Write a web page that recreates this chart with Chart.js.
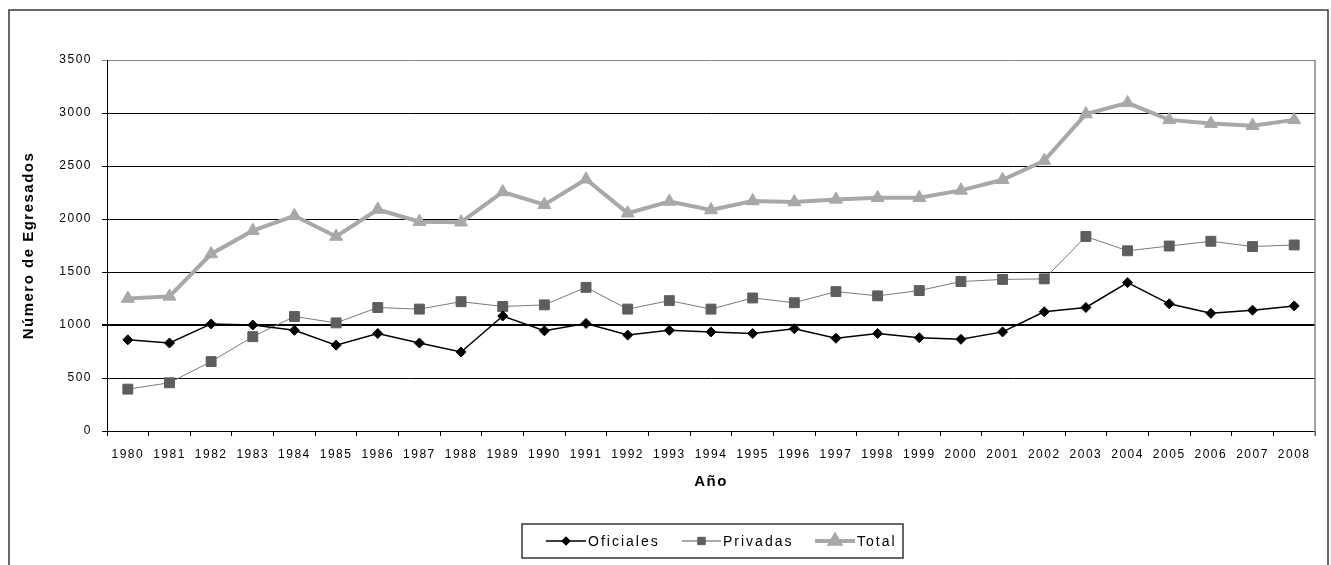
<!DOCTYPE html>
<html>
<head>
<meta charset="utf-8">
<script src="https://cdn.jsdelivr.net/npm/chart.js@4.4.1/dist/chart.umd.min.js"></script>
<style>
  html, body { margin: 0; padding: 0; background: #fff; }
  canvas { display: block; }
</style>
</head>
<body>
<canvas id="egresadosChart" width="1331" height="565"></canvas>
<script>
const years = ['1980', '1981', '1982', '1983', '1984', '1985', '1986', '1987', '1988', '1989',
    '1990', '1991', '1992', '1993', '1994', '1995', '1996', '1997', '1998', '1999',
    '2000', '2001', '2002', '2003', '2004', '2005', '2006', '2007', '2008'];

const oficiales = [860, 830, 1010, 1000, 950, 810, 920, 830, 745, 1085,
    945, 1015, 905, 950, 935, 920, 965, 875, 920, 880,
    865, 935, 1125, 1165, 1400, 1200, 1110, 1140, 1180];

const privadas = [395, 455, 655, 890, 1080, 1020, 1165, 1150, 1220, 1175,
    1190, 1355, 1150, 1230, 1150, 1255, 1210, 1315, 1275, 1325,
    1410, 1430, 1435, 1835, 1700, 1745, 1790, 1740, 1755];

const total = [1250, 1270, 1670, 1890, 2030, 1835, 2090, 1975, 1970, 2255,
    2135, 2375, 2055, 2165, 2085, 2170, 2160, 2185, 2200, 2200,
    2270, 2370, 2550, 2990, 3095, 2935, 2900, 2880, 2935];

const yTicks = [0, 500, 1000, 1500, 2000, 2500, 3000, 3500];

const FONT = "'Liberation Sans', Arial, sans-serif";

// letter spacing has to be put back after any canvas reset
const spacing = {
    id: 'spacing',
    beforeUpdate(chart) { chart.ctx.letterSpacing = '1.5px'; },
    beforeLayout(chart) { chart.ctx.letterSpacing = '1.5px'; },
    beforeDraw(chart) { chart.ctx.letterSpacing = '1.5px'; }
};

// outer frame, plot border and the boxed legend
const frame = {
    id: 'frame',
    afterDraw(chart) {
        const ctx = chart.ctx;
        const area = chart.chartArea;
        ctx.save();
        ctx.strokeStyle = '#3a3a3a';
        ctx.lineWidth = 1.5;
        ctx.strokeRect(9, 10, 1319, 600);

        ctx.strokeStyle = '#868686';
        ctx.lineWidth = 1.5;
        ctx.beginPath();
        ctx.moveTo(area.right, area.top);
        ctx.lineTo(area.right, area.bottom + 5);
        ctx.stroke();

        // legend
        ctx.strokeStyle = '#333';
        ctx.lineWidth = 1.5;
        ctx.strokeRect(522, 524, 381, 34);

        const ly = 541;
        const items = [
            { text: 'Oficiales', x0: 546, x1: 586, ds: chart.data.datasets[0], line: '#000' },
            { text: 'Privadas', x0: 682, x1: 721, ds: chart.data.datasets[1], line: '#555' },
            { text: 'Total', x0: 815, x1: 855, ds: chart.data.datasets[2], line: '#a8a8a8' }
        ];
        ctx.font = '14px ' + FONT;
        ctx.letterSpacing = '2px';
        ctx.textBaseline = 'middle';
        ctx.textAlign = 'left';
        items.forEach(it => {
            ctx.strokeStyle = it.line;
            ctx.lineWidth = it.ds.borderWidth;
            ctx.beginPath();
            ctx.moveTo(it.x0, ly);
            ctx.lineTo(it.x1, ly);
            ctx.stroke();
            ctx.fillStyle = it.ds.pointBackgroundColor;
            ctx.strokeStyle = it.ds.pointBackgroundColor;
            Chart.helpers.drawPoint(ctx, {
                pointStyle: it.ds.pointStyle,
                radius: it.ds.pointRadius * 0.75,
                rotation: 0,
                borderWidth: 1
            }, (it.x0 + it.x1) / 2, ly);
            ctx.fillStyle = '#000';
            ctx.fillText(it.text, it.x1 + 2, ly + 1);
        });
        ctx.restore();
    }
};

const ctx = document.getElementById('egresadosChart').getContext('2d');

new Chart(ctx, {
    type: 'line',
    data: {
        labels: years,
        datasets: [{
            label: 'Oficiales',
            data: oficiales,
            borderColor: '#000',
            borderWidth: 1.5,
            pointStyle: 'rectRot',
            pointRadius: 5,
            pointBackgroundColor: '#000',
            pointBorderColor: '#000',
            pointBorderWidth: 1
        }, {
            label: 'Privadas',
            data: privadas,
            borderColor: '#7a7a7a',
            borderWidth: 1,
            pointStyle: 'rect',
            pointRadius: 7,
            pointBackgroundColor: '#5e5e5e',
            pointBorderColor: '#5e5e5e',
            pointBorderWidth: 1
        }, {
            label: 'Total',
            data: total,
            borderColor: '#a8a8a8',
            borderWidth: 4,
            pointStyle: 'triangle',
            pointRadius: 7.5,
            pointBackgroundColor: '#a8a8a8',
            pointBorderColor: '#a8a8a8',
            pointBorderWidth: 1
        }]
    },
    options: {
        responsive: false,
        animation: false,
        layout: {
            padding: { left: 0, right: 16, top: 60, bottom: 74 }
        },
        plugins: {
            legend: { display: false },
            tooltip: { enabled: false }
        },
        scales: {
            x: {
                offset: true,
                grid: {
                    offset: true,
                    drawOnChartArea: false,
                    tickLength: 5,
                    color: '#000'
                },
                border: { color: '#000', width: 1 },
                ticks: {
                    color: '#000',
                    font: { family: FONT, size: 12 },
                    padding: 11,
                    maxRotation: 0,
                    autoSkip: false
                },
                title: {
                    display: true,
                    text: 'Año',
                    color: '#000',
                    font: { family: FONT, size: 15, weight: 'bold' },
                    padding: { top: 0, bottom: 0 }
                },
                afterFit(scale) { scale.height = 60; }
            },
            y: {
                min: 0,
                max: 3500,
                afterBuildTicks(scale) { scale.ticks = yTicks.map(v => ({ value: v })); },
                grid: {
                    tickLength: 5,
                    color: c => (c.tick && c.tick.value === 3500 ? '#868686' : '#000'),
                    lineWidth: c => (c.tick && c.tick.value === 1000 ? 2 : 1)
                },
                border: { color: '#000', width: 1 },
                ticks: {
                    color: '#000',
                    font: { family: FONT, size: 12 },
                    padding: 10,
                    callback: v => String(v)
                },
                title: {
                    display: true,
                    text: 'Número de Egresados',
                    color: '#000',
                    font: { family: FONT, size: 15, weight: 'bold' },
                    padding: { top: 20, bottom: 0 }
                },
                afterFit(scale) { scale.width = 107; }
            }
        }
    },
    plugins: [spacing, frame]
});
</script>
</body>
</html>
